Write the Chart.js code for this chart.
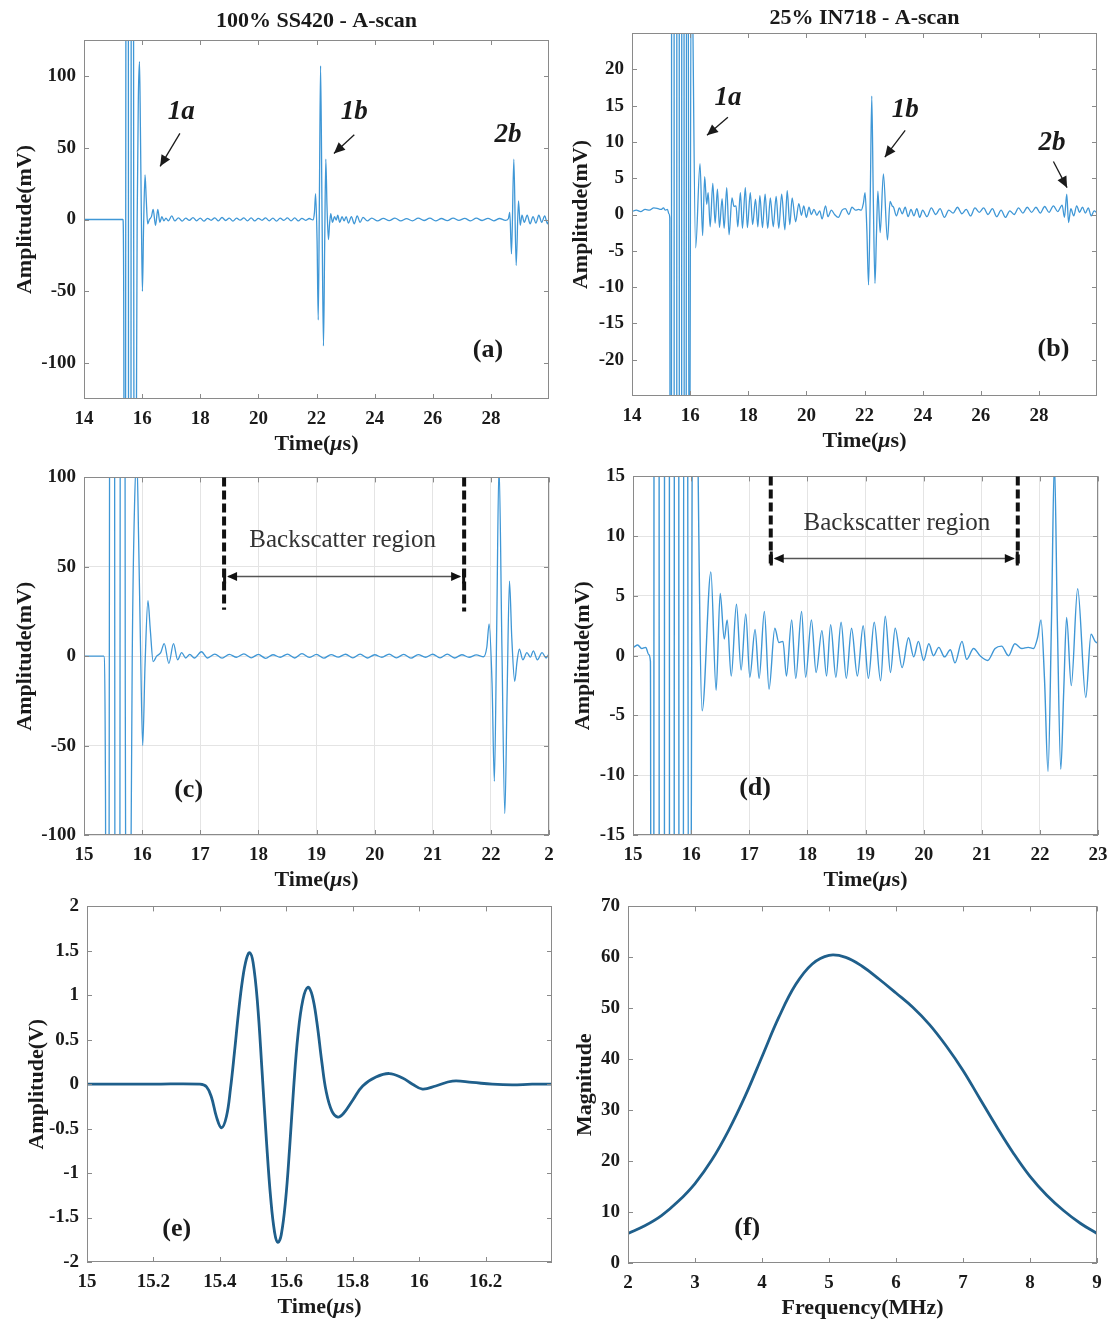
<!DOCTYPE html>
<html>
<head>
<meta charset="utf-8">
<script src="https://cdn.jsdelivr.net/npm/chart.js@4.4.1/dist/chart.umd.min.js"></script>
<style>
  html, body { margin: 0; padding: 0; background: #fff; }
  #page { position: relative; width: 1112px; height: 1321px; overflow: hidden; background: #fff; }
  #page canvas { position: absolute; }
</style>
</head>
<body>
<div id="page"></div>
<script>
// 100% SS420 A-scan, time (us) / amplitude (mV) - used by panels (a) and (c)
const sTime = [
  14.0, 14.5, 15.0, 15.34, 15.37, 15.385, 15.40, 15.415, 15.43, 15.445,
  15.46, 15.475, 15.487, 15.50, 15.515, 15.53, 15.545, 15.56, 15.575, 15.59,
  15.605, 15.62, 15.635, 15.65, 15.665, 15.68, 15.695, 15.71, 15.725, 15.74,
  15.755, 15.77, 15.80, 15.83, 15.87, 15.91, 15.94, 15.975, 16.01, 16.05,
  16.10, 16.14, 16.19, 16.25, 16.32, 16.38, 16.46, 16.54, 16.61, 16.68,
  16.75, 16.82, 16.90, 17.02, 17.125, 17.25, 17.375, 17.5, 17.625, 17.75,
  17.875, 18.0, 18.125, 18.25, 18.375, 18.5, 18.625, 18.75, 18.875, 19.0,
  19.125, 19.25, 19.375, 19.5, 19.625, 19.75, 19.875, 20.0, 20.125, 20.25,
  20.375, 20.5, 20.625, 20.75, 20.875, 21.0, 21.125, 21.25, 21.375, 21.5,
  21.625, 21.75, 21.875, 21.93, 21.97, 22.02, 22.06, 22.10, 22.14, 22.19,
  22.24, 22.28, 22.32, 22.36, 22.41, 22.45, 22.49, 22.55, 22.62, 22.68,
  22.73, 22.80, 22.88, 22.95, 23.02, 23.1, 23.2, 23.3, 23.4, 23.5,
  23.6, 23.75, 23.9, 24.1, 24.3, 24.5, 24.7, 24.9, 25.1, 25.3,
  25.5, 25.7, 25.9, 26.1, 26.3, 26.5, 26.7, 26.9, 27.1, 27.3,
  27.5, 27.7, 27.9, 28.1, 28.3, 28.5, 28.6, 28.65, 28.71, 28.79,
  28.87, 28.95, 29.01, 29.07, 29.15, 29.25, 29.35, 29.45, 29.55, 29.65,
  29.75, 29.85, 29.95, 30.0
];
const sAmp = [
  0, 0, 0, 0, -80, -300, -490, -420, -150, 250,
  850, 1330, 1480, 1330, 750, -50, -850, -1500, -1780, -1500,
  -800, 0, 600, 980, 1090, 950, 550, -20, -220, -340,
  -370, -320, -160, 0, 85, 110, 65, 0, -50, -5,
  31, 15, -3, 0, 2, 7, -4, 7, -2, 2,
  -1, 1, -1, 2.5, -1.0, 1.2, -1.1, 1.0, -0.6, 1.3,
  -0.9, 1.0, -1.2, 0.8, -0.6, 1.2, -1.0, 1.4, -0.7, 1.0,
  -1.1, 0.9, -0.5, 1.1, -0.9, 1.2, -1.0, 0.8, -0.6, 1.2,
  -0.9, 1.0, -1.1, 0.9, -0.6, 1.1, -0.9, 1.2, -1.0, 0.8,
  -0.6, 0.7, -0.3, 5, 18, -15, -70, 15, 107, 5,
  -88, -20, 42, 10, -14, -3, 4, -2, 2, -0.5,
  3, -2, 2, -1, 2, -2.5, 2, -3, 2.5, -2,
  1.5, -1, 1, -1, 0.8, -0.8, 1, -1, 0.6, -0.9,
  1, -0.7, 0.9, -1, 0.7, -0.8, 1, -0.6, 0.8, -1,
  0.9, -0.7, 0.8, -0.9, 0.7, -0.6, 0.5, 5, -24, 42,
  -32, 13, -4, 3, -2, 3, -3, 2, -2.5, 3,
  -2, 2.5, -3, 0
];

// 25% IN718 A-scan, time (us) / amplitude (mV) - used by panels (b) and (d)
const iTime = [
  14.00, 14.15, 14.30, 14.45, 14.60, 14.75, 14.90, 15.00, 15.08, 15.15,
  15.22, 15.27, 15.30, 15.34, 15.42, 15.50, 15.58, 15.66, 15.74, 15.82,
  15.90, 15.97, 16.04, 16.19, 16.34, 16.43, 16.50, 16.57, 16.62, 16.69,
  16.78, 16.86, 16.94, 17.01, 17.10, 17.17, 17.26, 17.34, 17.44, 17.51,
  17.58, 17.64, 17.73, 17.80, 17.90, 17.97, 18.07, 18.15, 18.25, 18.33,
  18.40, 18.49, 18.58, 18.67, 18.76, 18.86, 18.96, 19.05, 19.15, 19.26,
  19.34, 19.43, 19.51, 19.63, 19.74, 19.83, 19.91, 20.00, 20.09, 20.17,
  20.26, 20.36, 20.46, 20.54, 20.66, 20.74, 20.86, 20.97, 21.10, 21.23,
  21.34, 21.46, 21.57, 21.69, 21.80, 21.89, 21.96, 22.02, 22.08, 22.14,
  22.20, 22.25, 22.30, 22.36, 22.41, 22.46, 22.54, 22.65, 22.79, 22.88,
  22.95, 23.00, 23.10, 23.20, 23.30, 23.40, 23.50, 23.60, 23.70, 23.80,
  23.90, 24.00, 24.15, 24.30, 24.45, 24.60, 24.75, 24.90, 25.05, 25.20,
  25.35, 25.50, 25.65, 25.80, 25.95, 26.10, 26.25, 26.40, 26.55, 26.70,
  26.85, 27.00, 27.15, 27.30, 27.45, 27.60, 27.75, 27.90, 28.05, 28.20,
  28.35, 28.50, 28.65, 28.80, 28.88, 28.96, 29.02, 29.10, 29.20, 29.30,
  29.40, 29.50, 29.60, 29.70, 29.80, 29.90, 30.00
];
const iAmp = [
  0.4, 0.6, 0.4, 0.7, 0.6, 0.9, 0.8, 0.7, 0.9, 0.6,
  0.7, 0.1, -0.5, -300, 900, -1500, 1400, -1000, 600, -300,
  150, -60, 40, -4.6, 7.0, -2.9, 5.2, 1.4, 3.0, -1.7,
  4.3, -1.2, 3.5, -1.8, 2.2, -1.9, 3.7, -2.8, 2.3, 1.1,
  1.2, -1.7, 3.0, -1.9, 3.7, -1.8, 3.0, -1.4, 2.1, -1.7,
  2.6, -1.8, 2.8, -1.9, 2.3, -1.7, 2.5, -1.9, 2.8, -2.1,
  3.3, -1.4, 2.3, -1.0, 1.5, -0.1, 1.2, -0.4, 1.0, 0.0,
  0.7, -0.1, 0.5, -0.6, 1.2, -0.3, 0.6, 0.0, -0.4, 0.6,
  0.8, 0.0, 1.0, 0.6, 0.7, 0.6, 1.5, 3.0, -2.0, -9.7,
  3.0, 16.3, 3.0, -9.5, -3.0, 3.2, -2.5, 5.6, -3.5, 1.8,
  1.2, 1.0, -0.2, 0.9, 0.1, 1.0, -0.3, 0.7, -0.2, 0.8,
  -0.4, 0.6, -0.3, 0.9, 0.0, 0.8, -0.4, 0.6, 0.2, 1.0,
  0.1, 0.7, -0.2, 0.9, 0.3, 0.9, 0.0, 0.8, -0.3, 0.6,
  -0.4, 0.5, 0.0, 0.9, 0.2, 1.0, 0.3, 1.0, 0.2, 1.1,
  0.3, 1.2, 0.4, 1.3, -0.4, 2.8, -1.1, 0.8, -0.2, 1.2,
  0.3, 1.0, 0.2, 0.9, -0.2, 0.5, 0.2
];

// (e) reference pulse, time (us) / amplitude (V)
const eTime = [
  15.00, 15.20, 15.34, 15.36, 15.375, 15.39, 15.405, 15.42, 15.432, 15.444,
  15.456, 15.468, 15.48, 15.49, 15.50, 15.513, 15.527, 15.54, 15.553, 15.565,
  15.575, 15.585, 15.598, 15.61, 15.622, 15.635, 15.65, 15.665, 15.678, 15.692,
  15.707, 15.72, 15.737, 15.755, 15.772, 15.80, 15.83, 15.87, 15.91, 15.95,
  15.98, 16.01, 16.05, 16.10, 16.16, 16.22, 16.28, 16.34, 16.40
];
const eAmp = [
  0, 0, 0, -0.03, -0.15, -0.37, -0.49, -0.36, -0.05, 0.36,
  0.80, 1.17, 1.41, 1.48, 1.37, 0.93, 0.15, -0.62, -1.28, -1.67,
  -1.78, -1.69, -1.30, -0.72, -0.05, 0.55, 0.95, 1.09, 1.00, 0.70,
  0.25, -0.08, -0.30, -0.37, -0.33, -0.18, -0.02, 0.08, 0.12, 0.07,
  0.0, -0.055, -0.02, 0.035, 0.02, 0.0, -0.008, 0.0, 0.0
];

// (f) spectrum, frequency (MHz) / magnitude
const fFreq = [2.0, 2.25, 2.5, 2.75, 3.0, 3.25, 3.5, 3.75, 4.0, 4.25, 4.5, 4.75, 5.0, 5.25, 5.5,
               5.75, 6.0, 6.25, 6.5, 6.75, 7.0, 7.25, 7.5, 7.75, 8.0, 8.25, 8.5, 8.75, 9.0];
const fMag  = [5.8, 7.3, 9.3, 12.1, 15.6, 20.2, 26.0, 32.8, 40.5, 48.2, 54.6, 58.7, 60.4, 60.0, 58.2,
               55.7, 53.0, 50.2, 46.8, 42.6, 37.8, 32.3, 26.8, 21.6, 17.0, 13.3, 10.3, 7.8, 5.8];

// tick values / labels
const abXTicks = [14, 16, 18, 20, 22, 24, 26, 28];
const aYTicks = [-100, -50, 0, 50, 100];
const bYTicks = [-20, -15, -10, -5, 0, 5, 10, 15, 20];
const cdXTicks = [15, 16, 17, 18, 19, 20, 21, 22, 23];
const cXLabels = ['15', '16', '17', '18', '19', '20', '21', '22', '2'];
const cYTicks = [-100, -50, 0, 50, 100];
const dYTicks = [-15, -10, -5, 0, 5, 10, 15];
const eXTicks = [15, 15.2, 15.4, 15.6, 15.8, 16, 16.2];
const eYTicks = [-2, -1.5, -1, -0.5, 0, 0.5, 1, 1.5, 2];
const fXTicks = [2, 3, 4, 5, 6, 7, 8, 9];
const fYTicks = [0, 10, 20, 30, 40, 50, 60, 70];

const FONT = '"Liberation Serif", "Times New Roman", serif';
const INK = '#1a1a1a';
const SCAN_BLUE = '#3f97d6';
const PULSE_BLUE = '#1f5f8b';
const PADL = 80, PADR = 25, PADB = 70;

const TIME_T = [['Time(', 'bold'], ['\u03bc', 'italic bold'], ['s)', 'bold']];
const AMP_MV = [['Amplitude(mV)', 'bold']];

function pts(xs, ys) {
  return xs.map((x, i) => ({ x: x, y: ys[i] }));
}

function drawRuns(ctx, runs, cx, cy, size) {
  let total = 0;
  runs.forEach(r => { ctx.font = r[1] + ' ' + size + 'px ' + FONT; total += ctx.measureText(r[0]).width; });
  let x = cx - total / 2;
  ctx.textAlign = 'left';
  ctx.textBaseline = 'middle';
  runs.forEach(r => {
    ctx.font = r[1] + ' ' + size + 'px ' + FONT;
    ctx.fillText(r[0], x, cy);
    x += ctx.measureText(r[0]).width;
  });
}

function arrowHead(ctx, x1, y1, x2, y2, len, half) {
  const ang = Math.atan2(y2 - y1, x2 - x1);
  ctx.beginPath();
  ctx.moveTo(x2, y2);
  ctx.lineTo(x2 - len * Math.cos(ang) + half * Math.sin(ang), y2 - len * Math.sin(ang) - half * Math.cos(ang));
  ctx.lineTo(x2 - len * Math.cos(ang) - half * Math.sin(ang), y2 - len * Math.sin(ang) + half * Math.cos(ang));
  ctx.closePath();
  ctx.fill();
}

function drawNote(ctx, xs, ys, n) {
  const X = v => xs.getPixelForValue(v);
  const Y = v => ys.getPixelForValue(v);
  if (n.type === 'text') {
    ctx.fillStyle = n.color || INK;
    ctx.font = (n.style || 'bold') + ' ' + n.size + 'px ' + FONT;
    ctx.textAlign = 'center';
    ctx.textBaseline = 'middle';
    ctx.fillText(n.text, X(n.x), Y(n.y));
  } else if (n.type === 'arrow') {
    const x1 = X(n.x1), y1 = Y(n.y1), x2 = X(n.x2), y2 = Y(n.y2);
    ctx.strokeStyle = INK; ctx.fillStyle = INK; ctx.lineWidth = 1.3;
    ctx.beginPath(); ctx.moveTo(x1, y1); ctx.lineTo(x2, y2); ctx.stroke();
    arrowHead(ctx, x1, y1, x2, y2, 11, 5);
  } else if (n.type === 'vdash') {
    ctx.strokeStyle = '#111'; ctx.lineWidth = 4;
    ctx.setLineDash([9, 4]);
    ctx.beginPath(); ctx.moveTo(X(n.x), Y(n.y1)); ctx.lineTo(X(n.x), Y(n.y2)); ctx.stroke();
    ctx.setLineDash([]);
  } else if (n.type === 'span') {
    const x1 = X(n.x1), x2 = X(n.x2), y = Math.round(Y(n.y)) + 0.5;
    ctx.strokeStyle = '#555'; ctx.fillStyle = '#111'; ctx.lineWidth = 1.6;
    ctx.beginPath(); ctx.moveTo(x1 + 4, y); ctx.lineTo(x2 - 4, y); ctx.stroke();
    arrowHead(ctx, x2, y, x1 + 3, y, 10, 4.5);
    arrowHead(ctx, x1, y, x2 - 3, y, 10, 4.5);
    ctx.fillRect(x1 - 1, y - 7, 3, 14);
    ctx.fillRect(x2 - 2, y - 7, 3, 14);
  }
}

const framePlugin = {
  id: 'frame',
  afterDatasetsDraw(chart, args, o) {
    const ctx = chart.ctx;
    const a = chart.chartArea;
    const xs = chart.scales.x, ys = chart.scales.y;
    ctx.save();
    ctx.strokeStyle = '#8a8a8a';
    ctx.lineWidth = 1;
    ctx.strokeRect(Math.round(a.left) + 0.5, Math.round(a.top) + 0.5,
                   Math.round(a.right - a.left) - 1, Math.round(a.bottom - a.top) - 1);
    ctx.beginPath();
    xs.ticks.forEach(t => {
      const p = Math.round(xs.getPixelForValue(t.value)) + 0.5;
      ctx.moveTo(p, a.bottom); ctx.lineTo(p, a.bottom - 5);
      ctx.moveTo(p, a.top); ctx.lineTo(p, a.top + 5);
    });
    ys.ticks.forEach(t => {
      const p = Math.round(ys.getPixelForValue(t.value)) + 0.5;
      ctx.moveTo(a.left, p); ctx.lineTo(a.left + 5, p);
      ctx.moveTo(a.right, p); ctx.lineTo(a.right - 5, p);
    });
    ctx.stroke();

    ctx.fillStyle = INK;
    if (o.title) drawRuns(ctx, [[o.title, 'bold']], (a.left + a.right) / 2, a.top - o.titleDy, 22);
    drawRuns(ctx, o.xTitle, (a.left + a.right) / 2, a.bottom + 45, 22);
    ctx.save();
    ctx.translate(a.left - o.yTitleDx, (a.top + a.bottom) / 2);
    ctx.rotate(-Math.PI / 2);
    drawRuns(ctx, o.yTitle, 0, 0, 22);
    ctx.restore();

    (o.notes || []).forEach(n => drawNote(ctx, xs, ys, n));
    ctx.restore();
  }
};

const panels = [
  { L: 84, T: 40, R: 549, B: 399, padT: 40, title: '100% SS420 - A-scan', titleDy: 19,
    x: [14, 30], y: [-125, 125], xTicks: abXTicks, yTicks: aYTicks,
    data: pts(sTime, sAmp), color: SCAN_BLUE, width: 1.3, grid: false, smooth: false,
    xTitle: TIME_T, yTitle: AMP_MV, yTitleDx: 59,
    notes: [
      { type: 'text', text: '1a', x: 17.35, y: 75, size: 27, style: 'italic bold' },
      { type: 'arrow', x1: 17.3, y1: 60, x2: 16.62, y2: 37 },
      { type: 'text', text: '1b', x: 23.3, y: 75, size: 27, style: 'italic bold' },
      { type: 'arrow', x1: 23.3, y1: 59, x2: 22.6, y2: 46 },
      { type: 'text', text: '2b', x: 28.59, y: 59, size: 27, style: 'italic bold' },
      { type: 'text', text: '(a)', x: 27.9, y: -91, size: 26 }
    ] },
  { L: 632, T: 33, R: 1097, B: 396, padT: 33, title: '25% IN718 - A-scan', titleDy: 15,
    x: [14, 30], y: [-25, 25], xTicks: abXTicks, yTicks: bYTicks,
    data: pts(iTime, iAmp), color: SCAN_BLUE, width: 1.3, grid: false, smooth: false,
    xTitle: TIME_T, yTitle: AMP_MV, yTitleDx: 51,
    notes: [
      { type: 'text', text: '1a', x: 17.3, y: 16.1, size: 27, style: 'italic bold' },
      { type: 'arrow', x1: 17.3, y1: 13.4, x2: 16.58, y2: 10.9 },
      { type: 'text', text: '1b', x: 23.4, y: 14.4, size: 27, style: 'italic bold' },
      { type: 'arrow', x1: 23.4, y1: 11.6, x2: 22.7, y2: 7.9 },
      { type: 'text', text: '2b', x: 28.45, y: 9.9, size: 27, style: 'italic bold' },
      { type: 'arrow', x1: 28.5, y1: 7.3, x2: 28.97, y2: 3.7 },
      { type: 'text', text: '(b)', x: 28.5, y: -18.6, size: 26 }
    ] },
  { L: 84, T: 474, R: 549, B: 835, padT: 16,
    x: [15, 23], y: [-100, 100], xTicks: cdXTicks, xLabels: cXLabels, yTicks: cYTicks,
    data: pts(sTime, sAmp), color: SCAN_BLUE, width: 1.3, grid: true, smooth: false,
    xTitle: TIME_T, yTitle: AMP_MV, yTitleDx: 59,
    notes: [
      { type: 'vdash', x: 17.41, y1: 100, y2: 26 },
      { type: 'vdash', x: 21.54, y1: 100, y2: 25 },
      { type: 'span', x1: 17.41, x2: 21.54, y: 44.8 },
      { type: 'text', text: 'Backscatter region', x: 19.45, y: 64.8, size: 25, style: 'normal', color: '#333' },
      { type: 'text', text: '(c)', x: 16.8, y: -75, size: 26 }
    ] },
  { L: 633, T: 473, R: 1098, B: 835, padT: 16,
    x: [15, 23], y: [-15, 15], xTicks: cdXTicks, yTicks: dYTicks,
    data: pts(iTime, iAmp), color: SCAN_BLUE, width: 1.4, grid: true, smooth: false,
    xTitle: TIME_T, yTitle: AMP_MV, yTitleDx: 50,
    notes: [
      { type: 'vdash', x: 17.37, y1: 15, y2: 7.7 },
      { type: 'vdash', x: 21.62, y1: 15, y2: 7.7 },
      { type: 'span', x1: 17.37, x2: 21.62, y: 8.15 },
      { type: 'text', text: 'Backscatter region', x: 19.54, y: 11.05, size: 25, style: 'normal', color: '#333' },
      { type: 'text', text: '(d)', x: 17.1, y: -11.05, size: 26 }
    ] },
  { L: 87, T: 903, R: 552, B: 1262, padT: 16,
    x: [15, 16.4], y: [-2, 2], xTicks: eXTicks, yTicks: eYTicks,
    data: pts(eTime, eAmp), color: PULSE_BLUE, width: 2.8, grid: false, smooth: true,
    xTitle: TIME_T, yTitle: [['Amplitude(V)', 'bold']], yTitleDx: 50,
    notes: [ { type: 'text', text: '(e)', x: 15.27, y: -1.63, size: 26 } ] },
  { L: 628, T: 903, R: 1097, B: 1263, padT: 16,
    x: [2, 9], y: [0, 70], xTicks: fXTicks, yTicks: fYTicks,
    data: pts(fFreq, fMag), color: PULSE_BLUE, width: 2.8, grid: false, smooth: true,
    xTitle: [['Frequency(MHz)', 'bold']], yTitle: [['Magnitude', 'bold']], yTitleDx: 43,
    notes: [ { type: 'text', text: '(f)', x: 3.78, y: 6.8, size: 26 } ] }
];

Chart.defaults.font.family = FONT;

const page = document.getElementById('page');

panels.forEach(p => {
  const cv = document.createElement('canvas');
  const w = (p.R - p.L) + PADL + PADR;
  const h = (p.B - p.T) + p.padT + PADB;
  cv.width = w; cv.height = h;
  cv.style.left = (p.L - PADL) + 'px';
  cv.style.top = (p.T - p.padT) + 'px';
  cv.style.width = w + 'px';
  cv.style.height = h + 'px';
  page.appendChild(cv);

  const tickFont = { size: 19, weight: 'bold', family: FONT };
  new Chart(cv.getContext('2d'), {
    type: 'line',
    data: {
      datasets: [{
        data: p.data,
        borderColor: p.color,
        borderWidth: p.width,
        pointRadius: 0,
        fill: false,
        // smooth pulse/spectrum curves; scans keep monotone so peaks don't overshoot
        cubicInterpolationMode: p.smooth ? 'default' : 'monotone',
        tension: p.smooth ? 0.4 : 0
      }]
    },
    options: {
      responsive: false,
      animation: false,
      events: [],
      devicePixelRatio: 1,
      layout: { padding: { left: 0, top: p.padT, right: PADR, bottom: 0 } },
      plugins: {
        legend: { display: false },
        tooltip: { enabled: false },
        frame: p
      },
      scales: {
        x: {
          type: 'linear', min: p.x[0], max: p.x[1],
          afterBuildTicks: s => { s.ticks = p.xTicks.map(v => ({ value: v })); },
          afterFit: s => { s.height = PADB; },
          ticks: {
            font: tickFont, color: INK, padding: 9, maxRotation: 0, autoSkip: false,
            callback: (v, i) => p.xLabels ? p.xLabels[i] : String(v)
          },
          grid: { display: p.grid, drawTicks: false, color: '#e4e4e4', lineWidth: 1 },
          border: { display: false }
        },
        y: {
          type: 'linear', min: p.y[0], max: p.y[1],
          afterBuildTicks: s => { s.ticks = p.yTicks.map(v => ({ value: v })); },
          afterFit: s => { s.width = PADL; },
          ticks: { font: tickFont, color: INK, padding: 8, autoSkip: false, callback: v => String(v) },
          grid: { display: p.grid, drawTicks: false, color: '#e4e4e4', lineWidth: 1 },
          border: { display: false }
        }
      }
    },
    plugins: [framePlugin]
  });
});
</script>
</body>
</html>
